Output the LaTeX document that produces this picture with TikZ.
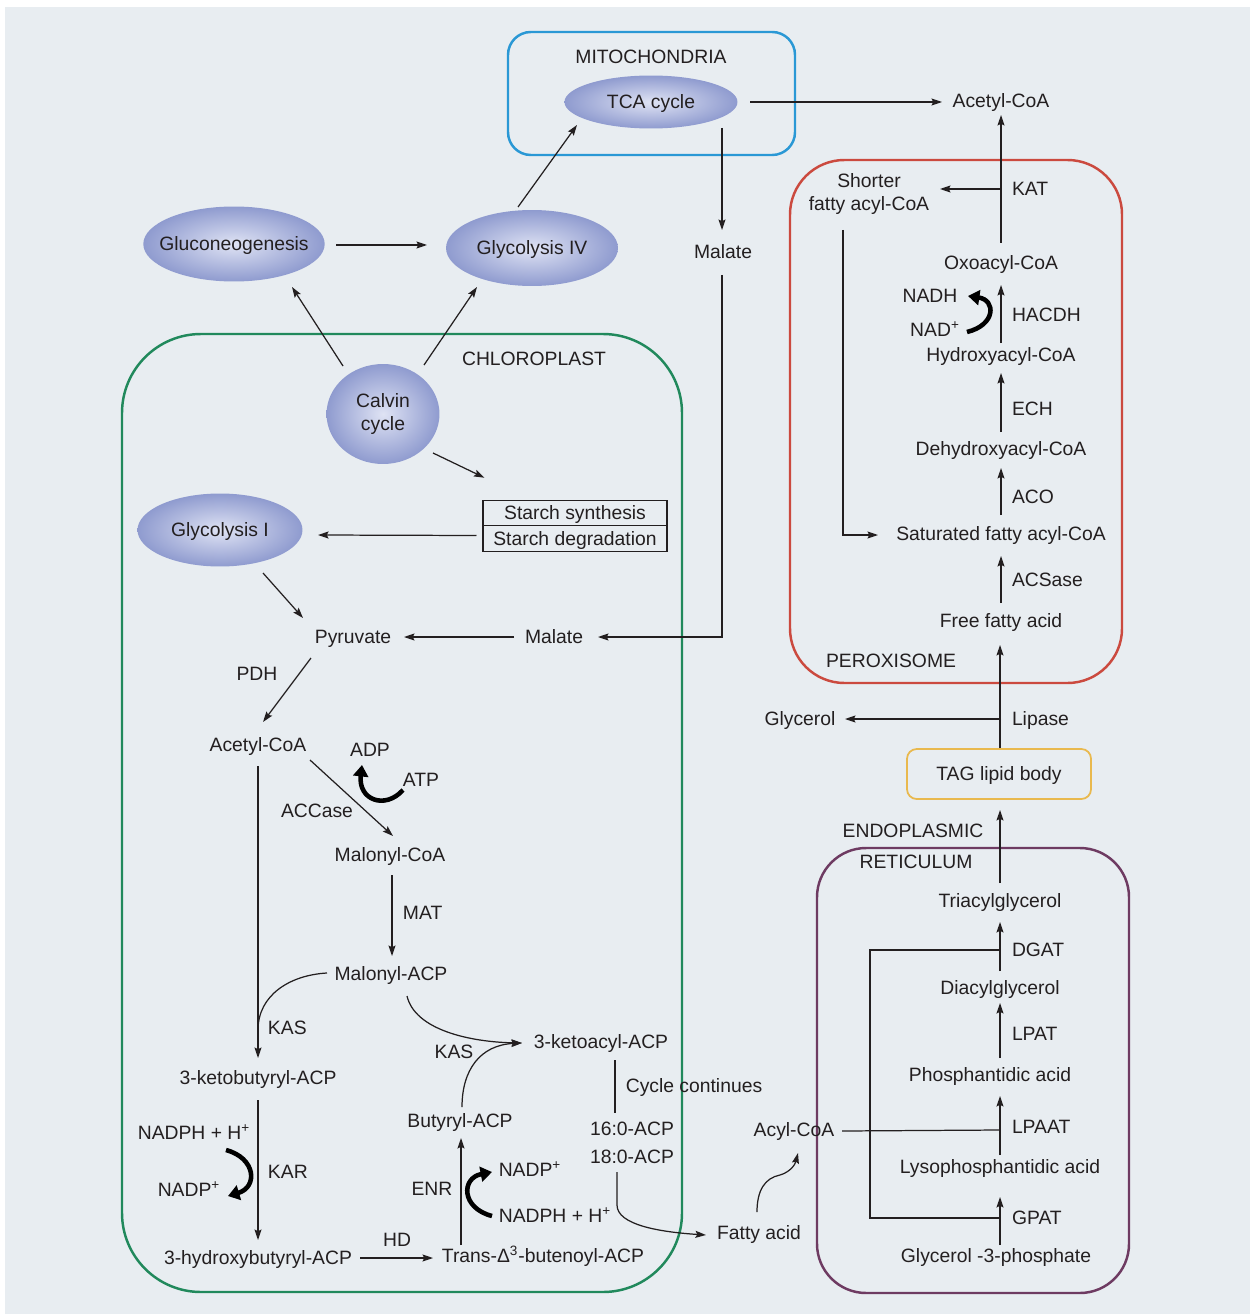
\documentclass[tikz,border=0pt]{standalone}
\usepackage{fontspec}
\setmainfont{Liberation Sans}
\usetikzlibrary{arrows.meta,calc,shapes.geometric}
\definecolor{bg}{HTML}{E8EDF1}
\definecolor{txt}{HTML}{231F20}
\definecolor{mito}{HTML}{2A98D5}
\definecolor{chloro}{HTML}{21895C}
\definecolor{perox}{HTML}{CB4A3F}
\definecolor{ercol}{HTML}{6E3B62}
\definecolor{tagc}{HTML}{E9B94E}
\definecolor{ellin}{HTML}{DFE3F4}
\definecolor{ellout}{HTML}{8F9BCF}
\begin{document}
\begin{tikzpicture}[x=0.02cm,y=-0.02cm,
 every node/.style={font=\fontsize{11}{13}\selectfont, text=txt},
 tx/.style={text height=10.2pt, text depth=2.3pt},
 lbl/.style={inner sep=1.5pt, tx},
 enz/.style={inner sep=1.5pt, anchor=west, tx},
 oval/.style={ellipse, inner sep=0pt, draw=none, inner color=ellin, outer color=ellout},
 arr/.style={draw=txt, line width=0.7pt, -{Stealth[length=6pt,width=4pt,inset=1pt]}},
 ln/.style={draw=txt, line width=0.7pt},
 cof/.style={draw=black, line width=2.6pt, -{Triangle[length=6.5pt,width=8.5pt]}},
 comp/.style={line width=1.4pt},
 stbox/.style={draw=txt, line width=0.6pt, minimum width=3.68cm, minimum height=0.51cm, inner sep=0pt, tx}
]
\useasboundingbox (0,0) rectangle (1250,1314);
\fill[white] (0,0) rectangle (1250,1314);
\fill[bg] (5,7) rectangle (1250,1314);

% compartments
\draw[mito, comp, rounded corners=13pt] (508,32) rectangle (795,155);
\draw[chloro, comp, rounded corners=45pt] (122,334) rectangle (682,1292);
\draw[perox, comp, rounded corners=31pt] (790,160) rectangle (1122,683);
\draw[ercol, comp, rounded corners=28pt] (817,848) rectangle (1129,1293);

% compartment labels
\node[lbl] (mitlbl) at (651,57) {MITOCHONDRIA};
\node[lbl] (chllbl) at (534,359) {CHLOROPLAST};
\node[lbl] (perlbl) at (891,661) {PEROXISOME};
\node[lbl] (endlbl) at (913,831) {ENDOPLASMIC};
\node[lbl] (retlbl) at (916,862) {RETICULUM};

% ellipses
\node[oval, tx, minimum width=3.46cm, minimum height=1.06cm] (tca) at (651,102) {TCA cycle};
\node[oval, tx, minimum width=3.44cm, minimum height=1.52cm] (glyIV) at (532,248) {Glycolysis IV};
\node[oval, tx, inner xsep=-6pt, minimum width=3.6cm, minimum height=1.5cm] (gluco) at (234,244) {Gluconeogenesis};
\node[oval, minimum width=2.26cm, minimum height=2.0cm, align=center] (calvin) at (383,414) {Calvin\\cycle};
\node[oval, tx, minimum width=3.3cm, minimum height=1.46cm] (glyI) at (220,530) {Glycolysis I};

% starch boxes
\node[stbox] (starch1) at (575,513) {Starch synthesis};
\node[stbox] (starch2) at (575,538.5) {Starch degradation};

% top / mito
\node[lbl] (acoa1) at (1001,101) {Acetyl-CoA};
\node[lbl] (mal1) at (723,252) {Malate};

% chloroplast
\node[lbl] (pyr) at (353,637) {Pyruvate};
\node[lbl] (mal2) at (554,637) {Malate};
\node[lbl] (pdh) at (257,674) {PDH};
\node[lbl] (acoa2) at (258,745) {Acetyl-CoA};
\node[lbl] (adp) at (370,750) {ADP};
\node[lbl] (atp) at (421,780) {ATP};
\node[lbl] (accase) at (317,811) {ACCase};
\node[lbl] (malcoa) at (390,855) {Malonyl-CoA};
\node[enz] (mat) at (400,913) {MAT};
\node[lbl] (malacp) at (391,974) {Malonyl-ACP};
\node[enz] (kas1) at (265,1028) {KAS};
\node[lbl] (ketobut) at (258,1078) {3-ketobutyryl-ACP};
\node[lbl] (nadph1) at (194,1133) {NADPH + H\textsuperscript{+}};
\node[lbl] (nadp1) at (189,1190) {NADP\textsuperscript{+}};
\node[enz] (kar) at (265,1172) {KAR};
\node[lbl] (hydroxybut) at (258,1258) {3-hydroxybutyryl-ACP};
\node[lbl] (hd) at (397,1240) {HD};
\node[lbl] (trans) at (543,1256) {Trans-Δ\textsuperscript{3}-butenoyl-ACP};
\node[lbl] (enr) at (432,1189) {ENR};
\node[lbl] (nadp2) at (530,1170) {NADP\textsuperscript{+}};
\node[lbl] (nadph2) at (555,1216) {NADPH + H\textsuperscript{+}};
\node[lbl] (butyryl) at (460,1121) {Butyryl-ACP};
\node[lbl] (kas2) at (454,1052) {KAS};
\node[lbl] (ketoacyl) at (601,1042) {3-ketoacyl-ACP};
\node[lbl] (cycle) at (694,1086) {Cycle continues};
\node[lbl] (c16) at (632,1129) {16:0-ACP};
\node[lbl] (c18) at (632,1157) {18:0-ACP};
\node[lbl] (fatty) at (759,1233) {Fatty acid};
\node[lbl] (acylcoa) at (794,1130) {Acyl-CoA};

% ER
\node[lbl] (g3p) at (996,1256) {Glycerol -3-phosphate};
\node[enz] (gpat) at (1009,1218) {GPAT};
\node[lbl] (lyso) at (1000,1167) {Lysophosphantidic acid};
\node[enz] (lpaat) at (1009,1127) {LPAAT};
\node[lbl] (pa) at (990,1075) {Phosphantidic acid};
\node[enz] (lpat) at (1009,1034) {LPAT};
\node[lbl] (dag) at (1000,988) {Diacylglycerol};
\node[enz] (dgat) at (1009,950) {DGAT};
\node[lbl] (tag) at (1000,901) {Triacylglycerol};
\node[draw=tagc, line width=1pt, rounded corners=5.5pt, minimum width=3.68cm, minimum height=1.0cm, tx] (tagbody) at (999,774) {TAG lipid body};
\node[enz] (lipase) at (1009,719) {Lipase};
\node[lbl] (glycerol) at (800,719) {Glycerol};

% peroxisome
\node[lbl] (ffa) at (1001,621) {Free fatty acid};
\node[enz] (acsase) at (1009,580) {ACSase};
\node[lbl] (sfa) at (1001,534) {Saturated fatty acyl-CoA};
\node[enz] (aco) at (1009,497) {ACO};
\node[lbl] (dehyd) at (1001,449) {Dehydroxyacyl-CoA};
\node[enz] (ech) at (1009,409) {ECH};
\node[lbl] (hydro) at (1001,355) {Hydroxyacyl-CoA};
\node[enz] (hacdh) at (1009,315) {HACDH};
\node[lbl] (nadh) at (930,296) {NADH};
\node[lbl] (nad) at (935,330) {NAD\textsuperscript{+}};
\node[lbl] (oxo) at (1001,263) {Oxoacyl-CoA};
\node[enz] (kat) at (1009,189) {KAT};
\node[inner sep=1.5pt, align=center] (shorter) at (869,194) {Shorter\\fatty acyl-CoA};

% ---- connectors ----
% mito area
\draw[arr] ($(tca.center)+(99,0)$) -- ($(acoa1.center)+(-59,1)$);
\draw[arr] ($(mal1.center)+(-1,-124)$) -- ($(mal1.center)+(-1,-22)$);
\draw[arr] ($(mal1.center)+(-1,23)$) |- ($(mal2.center)+(44,0)$);
\draw[arr] ($(mal2.center)+(-40,0)$) -- ($(pyr.center)+(51,0)$);
\draw[arr] ($(glyIV.center)+(-14,-41)$) -- ($(tca.center)+(-74,23)$);
\draw[arr] ($(gluco.center)+(102,1)$) -- ($(glyIV.center)+(-105,-3)$);
\draw[arr] ($(calvin.center)+(-40,-48)$) -- ($(gluco.center)+(58,43)$);
\draw[arr] ($(calvin.center)+(41,-49)$) -- ($(glyIV.center)+(-55,39)$);
\draw[arr] ($(calvin.center)+(50,39)$) -- ($(starch1.north west)+(2,-22)$);
\draw[arr] ($(starch2.west)+(-6,-3)$) -- ($(glyI.center)+(98,5)$);
\draw[arr] ($(glyI.center)+(43,43)$) -- ($(pyr.center)+(-50,-19)$);
\draw[arr] ($(pyr.center)+(-42,21)$) -- ($(acoa2.center)+(5,-23)$);
\draw[arr] ($(acoa2.center)+(52,15)$) -- ($(malcoa.center)+(3,-19)$);
\draw[arr] ($(malcoa.center)+(2,20)$) -- ($(malacp.center)+(1,-18)$);
\draw[arr] ($(acoa2.center)+(0,21)$) -- ($(ketobut.center)+(0,-20)$);
\coordinate (jk) at (258,1030);
\draw[ln] ($(malacp.center)+(-64,-1)$) .. controls (290,975) and (258,995) .. (jk);
\draw[arr] ($(ketobut.center)+(0,22)$) -- ($(hydroxybut.center)+(0,-18)$);
\draw[arr] ($(hydroxybut.center)+(102,0)$) -- ($(trans.center)+(-110,2)$);
\draw[arr] ($(trans.center)+(-82,-11)$) -- ($(butyryl.center)+(1,17)$);
\draw[arr] ($(malacp.center)+(16,22)$) .. controls (415,1030) and (470,1042) .. ($(ketoacyl.center)+(-79,1)$);
\draw[arr] ($(butyryl.center)+(2,-14)$) .. controls (462,1070) and (480,1045) .. ($(ketoacyl.center)+(-79,1)$);
\draw[ln] ($(ketoacyl.center)+(14,18)$) -- ($(c16.center)+(-17,-16)$);
\draw[arr] ($(c18.center)+(-15,15)$) -- (617,1205) .. controls (617,1225) and (660,1232) .. ($(fatty.center)+(-53,2)$);
\draw[arr] ($(fatty.center)+(-2,-21)$) .. controls (757,1190) and (765,1178) .. (780,1175) .. controls (790,1172) and (795,1165) .. ($(acylcoa.center)+(4,23)$);
\draw[ln] ($(acylcoa.center)+(48,1)$) -- (lyso |- acylcoa);

% ER
\draw[arr] ($(g3p.center)+(4,-11)$) -- ($(lyso.center)+(0,30)$);
\draw[arr] ($(lyso.center)+(0,-12)$) -- ($(pa.center)+(10,21)$);
\draw[arr] ($(pa.center)+(10,-17)$) -- ($(dag.center)+(0,15)$);
\draw[arr] ($(dag.center)+(0,-17)$) -- ($(tag.center)+(0,21)$);
\draw[arr] ($(tag.center)+(0,-18)$) -- ($(tagbody.center)+(1,36)$);
\draw[ln] (dag |- dgat) -- (870,950) |- (dag |- gpat);
\draw[arr] ($(tagbody.center)+(1,-26)$) -- ($(ffa.center)+(-1,24)$);
\draw[arr] (ffa |- lipase) -- ($(glycerol.center)+(45,0)$);

% peroxisome
\draw[arr] ($(ffa.center)+(0,-18)$) -- ($(sfa.center)+(0,22)$);
\draw[arr] ($(sfa.center)+(0,-19)$) -- ($(dehyd.center)+(0,19)$);
\draw[arr] ($(dehyd.center)+(0,-17)$) -- ($(hydro.center)+(0,18)$);
\draw[arr] ($(hydro.center)+(0,-12)$) -- ($(oxo.center)+(0,22)$);
\draw[arr] ($(oxo.center)+(0,-20)$) -- ($(acoa1.center)+(0,14)$);
\draw[arr] (oxo |- kat) -- ($(shorter.center)+(71,-5)$);
\draw[arr] ($(shorter.center)+(-26,36)$) |- ($(sfa.center)+(-123,1)$);

% cofactor arrows
\draw[cof] ($(atp.center)+(-18,10)$) .. controls (385,810) and (358,800) .. ($(adp.center)+(-8,15)$);
\draw[cof] ($(nadph1.center)+(32,17)$) .. controls (256,1158) and (258,1187) .. ($(nadp1.center)+(39,6)$);
\draw[cof] ($(nadph2.center)+(-63,0)$) .. controls (461,1208) and (461,1178) .. ($(nadp2.center)+(-38,2)$);
\draw[cof] ($(nad.center)+(32,2)$) .. controls (996,325) and (996,300) .. ($(nadh.center)+(38,0)$);
\end{tikzpicture}
\end{document}
